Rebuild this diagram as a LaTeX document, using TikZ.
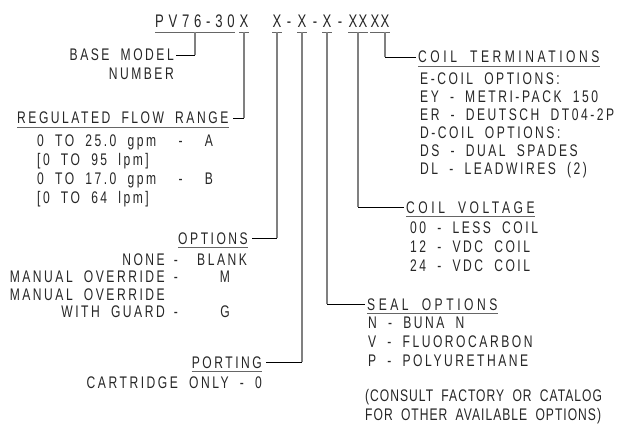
\documentclass[tikz,border=0pt]{standalone}
\usepackage{fontspec}
\setmainfont{Liberation Sans}[FakeStretch=0.72,LetterSpace=15,WordSpace=1.9]
\newfontfamily\headfont{Liberation Sans}[FakeStretch=0.72,LetterSpace=26]
\usetikzlibrary{positioning}
\tikzset{
  txt/.style={inner sep=0pt, text=black!85, font=\fontsize{16.8}{19}\selectfont},
  ttl/.style={txt, font=\fontsize{16.8}{19}\selectfont\addfontfeature{LetterSpace=21}},
  note/.style={txt, font=\fontsize{16.8}{19}\selectfont\addfontfeature{LetterSpace=6}},
  head/.style={inner sep=0pt, text=black!85, font=\headfont\fontsize{18.2}{20}\selectfont},
  pair/.style={head, font=\headfont\fontsize{18.2}{20}\selectfont\addfontfeature{LetterSpace=8}},
  vline/.style={draw=black!50, line width=1.5pt},
  hline/.style={draw=black, line width=1pt},
  uline/.style={draw=black!60, line width=0.9pt}
}
\begin{document}
\begin{tikzpicture}[x=1pt, y=-1pt]
    \useasboundingbox (0,0) rectangle (632,433);
    \def\ubase{32}
    % model code
    \node[head, anchor=base west] (model) at (155,28) {PV76-30};
    \node[head, anchor=base] (xflow) at (244,28) {X};
    \node[head, anchor=base] (xopt) at (277,28) {X};
    \node[head, anchor=base] (d1) at (289,28) {-};
    \node[head, anchor=base] (xport) at (302,28) {X};
    \node[head, anchor=base] (d2) at (315,28) {-};
    \node[head, anchor=base] (xseal) at (327,28) {X};
    \node[head, anchor=base] (d3) at (340,28) {-};
    \node[pair, anchor=base] (xvolt) at (358,28) {XX};
    \node[pair, anchor=base] (xterm) at (380,28) {XX};
    \foreach \n in {model,xflow,xopt,xport,xseal,xvolt,xterm}
        \draw[uline] (\n.base west |- 0,\ubase) -- (\n.base east |- 0,\ubase);
    \coordinate (mtap) at (195,\ubase);

    % base model
    \node[txt, anchor=base east] (base) at (174,61) {BASE MODEL};
    \node[txt, anchor=base east] (number) at (174,80) {NUMBER};
    \draw[vline] (mtap) -- (mtap |- base.east);
    \draw[hline] (mtap |- base.east) -- ([xshift=2pt]base.east);

    % regulated flow range
    \node[txt, anchor=base west] (flow) at (17,124) {REGULATED FLOW RANGE};
    \draw[uline] ([yshift=-3pt]flow.base west) -- ([yshift=-3pt]flow.base east);
    \foreach \t [count=\i from 0] in {0 TO 25.0 gpm \ - \ A, [0 TO 95 lpm], 0 TO 17.0 gpm \ - \ B, [0 TO 64 lpm]}
        \node[txt, anchor=base west] (flow-\i) at (37,147+19*\i) {\t};
    \draw[vline] (xflow.base |- 0,\ubase) -- (xflow.base |- flow.east);
    \draw[hline] (xflow.base |- flow.east) -- ([xshift=4pt]flow.east);

    % options
    \node[txt, anchor=base east] (opt) at (248,244) {OPTIONS};
    \draw[uline] ([yshift=-3pt]opt.base west) -- ([yshift=-3pt]opt.base east);
    \node[txt, anchor=base east] (opt-0) at (165,265) {NONE};
    \node[txt, anchor=base east] (opt-1) at (165,282.5) {MANUAL OVERRIDE};
    \node[txt, anchor=base east] (opt-2) at (165,300) {MANUAL OVERRIDE};
    \node[txt, anchor=base east] (opt-3) at (165,317.5) {WITH GUARD};
    \node[txt, anchor=base] (optd-0) at (176,265) {-};
    \node[txt, anchor=base] (optd-1) at (176,282.5) {-};
    \node[txt, anchor=base] (optd-3) at (176,317.5) {-};
    \node[txt, anchor=base west] (optv-0) at (197,265) {BLANK};
    \node[txt, anchor=base] (optv-1) at (225,282.5) {M};
    \node[txt, anchor=base] (optv-3) at (225,317.5) {G};
    \draw[vline] (xopt.base |- 0,\ubase) -- (xopt.base |- opt.east);
    \draw[hline] (xopt.base |- opt.east) -- ([xshift=4pt]opt.east);

    % porting
    \node[txt, anchor=base east] (port) at (262,368) {PORTING};
    \draw[uline] ([yshift=-3pt]port.base west) -- ([yshift=-3pt]port.base east);
    \node[txt, anchor=base east] (port-0) at (262,388) {CARTRIDGE ONLY - 0};
    \draw[vline] (xport.base |- 0,\ubase) -- (xport.base |- port.east);
    \draw[hline] (xport.base |- port.east) -- ([xshift=4pt]port.east);

    % seal options
    \node[ttl, anchor=base west] (seal) at (367,310) {SEAL OPTIONS};
    \draw[uline] ([yshift=-3pt]seal.base west) -- ([yshift=-3pt]seal.base east);
    \foreach \t [count=\i from 0] in {N - BUNA N, V - FLUOROCARBON, P - POLYURETHANE}
        \node[txt, anchor=base west] (seal-\i) at (368,328+19*\i) {\t};
    \draw[vline] (xseal.base |- 0,\ubase) -- (xseal.base |- seal.west);
    \draw[hline] (xseal.base |- seal.west) -- ([xshift=-2pt]seal.west);

    % coil voltage
    \node[ttl, anchor=base west] (volt) at (406,213) {COIL VOLTAGE};
    \draw[uline] ([yshift=-3pt]volt.base west) -- ([yshift=-3pt]volt.base east);
    \foreach \t [count=\i from 0] in {00 - LESS COIL, 12 - VDC COIL, 24 - VDC COIL}
        \node[txt, anchor=base west] (volt-\i) at (410,233+19*\i) {\t};
    \draw[vline] (xvolt.base |- 0,\ubase) -- (xvolt.base |- volt.west);
    \draw[hline] (xvolt.base |- volt.west) -- ([xshift=-2pt]volt.west);

    % coil terminations
    \node[ttl, anchor=base west] (term) at (418,63) {COIL TERMINATIONS};
    \draw[uline] ([yshift=-3pt]term.base west) -- ([yshift=-3pt]term.base east);
    \foreach \t [count=\i from 0] in {E-COIL OPTIONS:, EY - METRI-PACK 150, ER - DEUTSCH DT04-2P, D-COIL OPTIONS:, DS - DUAL SPADES, DL - LEADWIRES (2)}
        \node[txt, anchor=base west] (term-\i) at (420,85+18*\i) {\t};
    \draw[vline] ([xshift=5pt]xterm.base |- 0,\ubase) -- ([xshift=5pt]xterm.base |- term.west);
    \draw[hline] ([xshift=5pt]xterm.base |- term.west) -- ([xshift=-2pt]term.west);

    % note
    \node[note, anchor=base west] (note-0) at (365,401) {(CONSULT FACTORY OR CATALOG};
    \node[note, anchor=base west] (note-1) at (365,420) {FOR OTHER AVAILABLE OPTIONS)};
\end{tikzpicture}
\end{document}
